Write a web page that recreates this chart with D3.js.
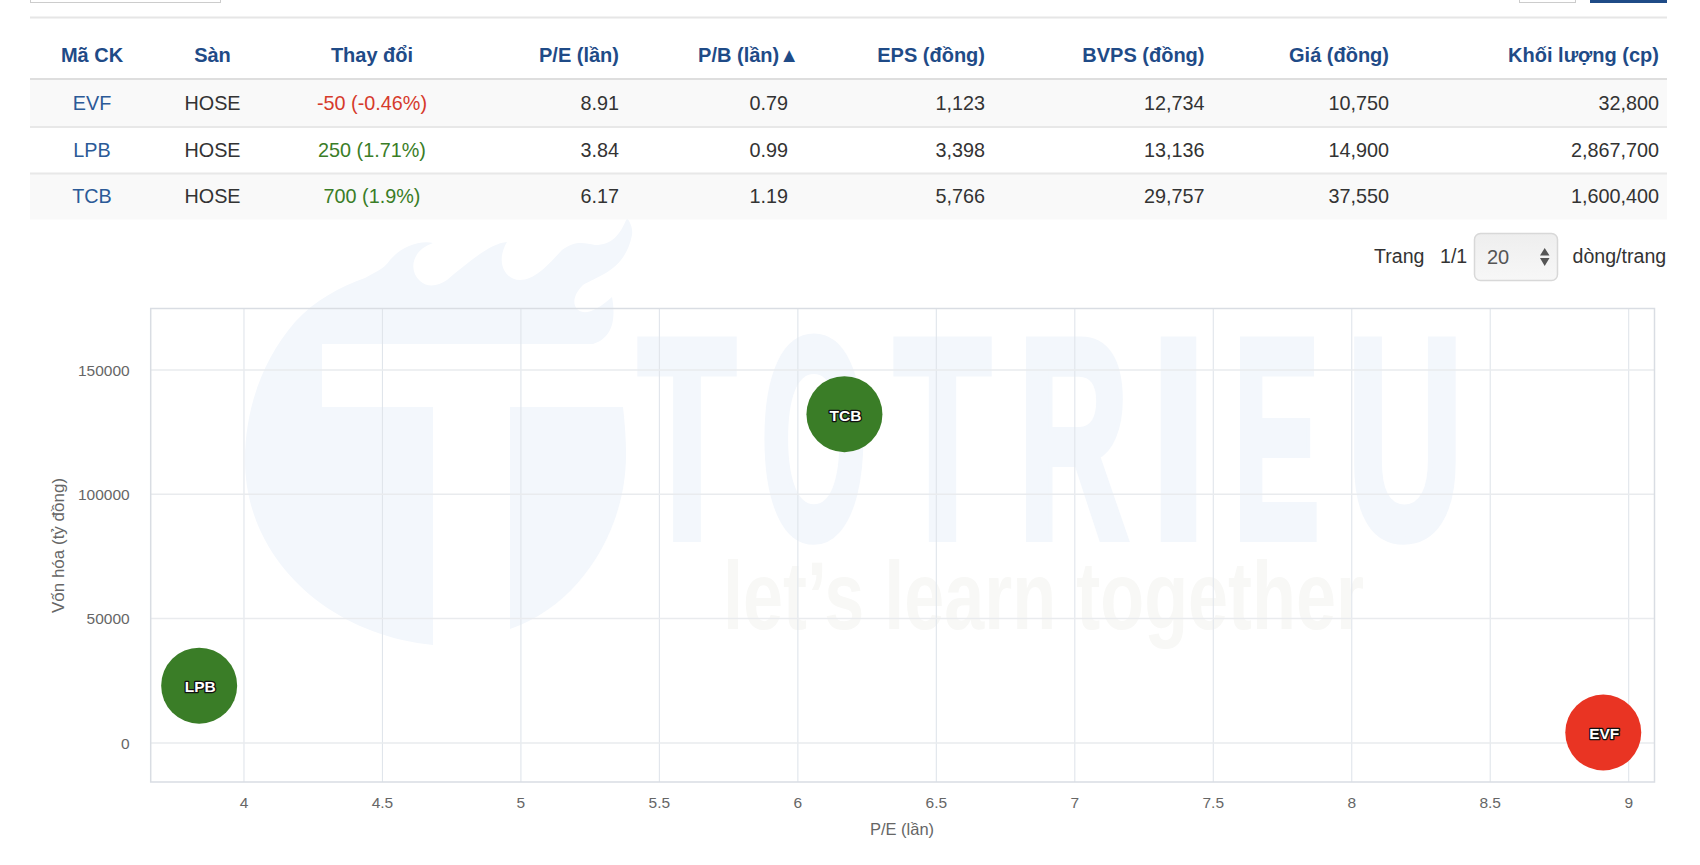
<!DOCTYPE html>
<html><head><meta charset="utf-8">
<script src="https://cdn.jsdelivr.net/npm/d3@7"></script>
<style>
html,body{margin:0;padding:0;background:#fff;overflow:hidden}
svg{display:block}
text{font-family:"Liberation Sans",Arial,sans-serif}
</style></head><body>
<svg id="c" width="1700" height="865"></svg>
<script>
const headers=["Mã CK","Sàn","Thay đổi","P/E (lần)","P/B (lần)▲","EPS (đồng)","BVPS (đồng)","Giá (đồng)","Khối lượng (cp)"];
const tickers=["EVF","LPB","TCB"];
const exchanges=["HOSE","HOSE","HOSE"];
const changes=["-50 (-0.46%)","250 (1.71%)","700 (1.9%)"];
const changeDir=[-1,1,1];
const peValues=[8.91,3.84,6.17];
const pbValues=[0.79,0.99,1.19];
const epsValues=[1123,3398,5766];
const bvpsValues=[12734,13136,29757];
const priceValues=[10750,14900,37550];
const volumeValues=[32800,2867700,1600400];
const marketCap=[4000,22850,132000];
const xTicks=[4,4.5,5,5.5,6,6.5,7,7.5,8,8.5,9];
const yTicks=[0,50000,100000,150000];
const xTitle="P/E (lần)", yTitle="Vốn hóa (tỷ đồng)";

const svg=d3.select("#c");
const NAVY="#1f4b87",LINK="#2b5a97",INK="#333",GREEN="#3a7d27",RED="#d63a2b",WM="#f3f7fc";
const fmt=d3.format(",");

// ---- top controls remnants
svg.append("rect").attr("x",30.5).attr("y",-6).attr("width",190).attr("height",8.5).attr("fill","#fff").attr("stroke","#ccc");
svg.append("rect").attr("x",1519.5).attr("y",-6).attr("width",56).attr("height",8.5).attr("fill","#fff").attr("stroke","#ccc");
svg.append("rect").attr("x",1590).attr("y",0).attr("width",77).attr("height",3).attr("fill","#1f4b87");
svg.append("rect").attr("x",30).attr("y",16.5).attr("width",1637).attr("height",2).attr("fill","#e6e6e6");

// ---- watermark
const wm=svg.append("g");
wm.append("path").attr("fill",WM).attr("d","M433,407 L322,407 L322,344 L593,344 C605,340 618,330 612,297 C600,308 590,313 583,312 C573,310 570,298 583,285 C600,275 625,270 632,235 C633,228 630,222 627,218 C620,235 612,245 595,245 C585,243 575,240 562,250 C548,265 535,280 520,280 C505,280 495,262 507,242 C490,243 465,265 447,280 C438,286 428,288 420,281 C408,270 412,250 433,243 C418,240 400,248 390,260 C383,270 375,272 365,278 C340,287 315,300 295,322 C262,360 245,410 245,460 C245,560 330,635 433,645 Z");
wm.append("path").attr("fill",WM).attr("d","M510,407 L623,407 C625,425 626,440 626,455 C626,530 580,605 510,629 Z");
[["T",637,737,1.07],["O",762,866,1.11],["T",893,992,1.07],["R",1021,1126,1.146],["I",1160,1197,1.98],["E",1236,1317,1.19],["U",1354,1456,1.24]].forEach(([ch,a,b,k])=>{
  wm.append("text").text(ch).attr("x",(a+b)/2).attr("y",538).attr("text-anchor","middle")
    .attr("font-size",287).attr("font-weight","bold").attr("fill",WM).attr("stroke",WM).attr("stroke-width",8)
    .attr("stroke-linejoin","miter").attr("textLength",(b-a-8)*k).attr("lengthAdjust","spacingAndGlyphs");
});
wm.append("text").text("let’s learn together").attr("x",723).attr("y",629).attr("font-size",96).attr("font-weight","bold")
  .attr("fill","#f8f8f6").attr("textLength",641).attr("lengthAdjust","spacingAndGlyphs");

// ---- table
const columns=[
 {c:92,a:"middle"},{c:212.5,a:"middle"},{c:372,a:"middle"},{c:619,a:"end"},{c:799,a:"end",v:788},
 {c:985,a:"end"},{c:1204.5,a:"end"},{c:1389,a:"end"},{c:1659,a:"end"}];
svg.append("g").selectAll("text").data(headers).join("text")
  .text(d=>d).attr("x",(d,i)=>columns[i].c).attr("y",62).attr("text-anchor",(d,i)=>columns[i].a)
  .attr("font-size",20).attr("font-weight","bold").attr("fill",NAVY);
svg.append("rect").attr("x",30).attr("y",78).attr("width",1637).attr("height",2.5).attr("fill","#dedede");
const rowTop=[80,127,173.5], rowH=[46,46.5,46];
tickers.forEach((t,r)=>{
  if(r%2===0) svg.append("rect").attr("x",30).attr("y",rowTop[r]).attr("width",1637).attr("height",rowH[r]).attr("fill","#f9f9f9");
  if(r>0) svg.append("rect").attr("x",30).attr("y",rowTop[r]-1).attr("width",1637).attr("height",2).attr("fill","#e8e8e8");
  const cells=[t,exchanges[r],changes[r],peValues[r].toFixed(2),pbValues[r].toFixed(2),fmt(epsValues[r]),fmt(bvpsValues[r]),fmt(priceValues[r]),fmt(volumeValues[r])];
  const base=[110,156.5,203][r];
  svg.append("g").selectAll("text").data(cells).join("text")
    .text(d=>d).attr("x",(d,i)=>columns[i].v||columns[i].c).attr("y",base).attr("text-anchor",(d,i)=>columns[i].a)
    .attr("font-size",19.8)
    .attr("fill",(d,i)=>i===0?LINK:i===2?(changeDir[r]<0?RED:GREEN):INK);
});

// ---- pagination
const defs=svg.append("defs");
const gr=defs.append("linearGradient").attr("id","sel").attr("x1",0).attr("y1",0).attr("x2",0).attr("y2",1);
gr.append("stop").attr("offset",0).attr("stop-color","#eeeeee");
gr.append("stop").attr("offset",1).attr("stop-color","#f7f7f7");
[["Trang",1374],["1/1",1440],["dòng/trang",1572.5]].forEach(([s,x])=>{
  svg.append("text").text(s).attr("x",x).attr("y",263).attr("font-size",19.6).attr("fill",INK);
});
svg.append("rect").attr("x",1474.5).attr("y",233.5).attr("width",83).attr("height",47).attr("rx",6).attr("fill","url(#sel)").attr("stroke","#d8d8d8").attr("stroke-width",1.5);
svg.append("text").text("20").attr("x",1487).attr("y",263.5).attr("font-size",20).attr("fill","#555");
svg.append("path").attr("d","M1544.7,248 L1549.5,255.5 L1540,255.5 Z M1544.7,266 L1549.5,258 L1540,258 Z").attr("fill","#555");

// ---- chart
const plot={l:150.7,r:1654.5,t:308.5,b:782};
const x=d3.scaleLinear().domain([3.665,9.095]).range([plot.l,plot.r]);
const y=d3.scaleLinear().domain([-15900,174500]).range([plot.b,plot.t]);
const gridX=svg.append("g").attr("transform",`translate(0,${plot.b})`).call(d3.axisBottom(x).tickValues(xTicks).tickSize(-(plot.b-plot.t)).tickFormat(""));
gridX.select(".domain").remove();
gridX.selectAll("line").attr("stroke","#e0e5eb").attr("stroke-width",1.1);
const gridY=svg.append("g").attr("transform",`translate(${plot.l},0)`).call(d3.axisLeft(y).tickValues(yTicks).tickSize(-(plot.r-plot.l)).tickFormat(""));
gridY.select(".domain").remove();
gridY.selectAll("line").attr("stroke","#e9ebee").attr("stroke-width",1.5);
svg.append("rect").attr("x",plot.l).attr("y",plot.t).attr("width",plot.r-plot.l).attr("height",plot.b-plot.t).attr("fill","none").attr("stroke","#d9dde3").attr("stroke-width",1.5);

const axX=svg.append("g").attr("transform",`translate(0,${plot.b})`).call(d3.axisBottom(x).tickValues(xTicks).tickSize(0).tickPadding(15).tickFormat(d3.format("")));
axX.select(".domain").remove();
axX.selectAll("text").attr("font-size",15.5).attr("fill","#666").attr("font-family","Liberation Sans");
const axY=svg.append("g").attr("transform",`translate(${plot.l},0)`).call(d3.axisLeft(y).tickValues(yTicks).tickSize(0).tickPadding(21).tickFormat(d3.format("d")));
axY.select(".domain").remove();
axY.selectAll("text").attr("font-size",15.5).attr("fill","#666").attr("font-family","Liberation Sans").attr("dy","0.36em");

svg.append("text").text(xTitle).attr("x",902).attr("y",835).attr("text-anchor","middle").attr("font-size",16.5).attr("fill","#666");
svg.append("text").text(yTitle).attr("transform","translate(64,545.5) rotate(-90)").attr("text-anchor","middle").attr("font-size",17).attr("fill","#666");

const bub=svg.append("g").selectAll("g").data(tickers).join("g")
  .attr("transform",(d,i)=>`translate(${x(peValues[i])},${y(marketCap[i])})`);
bub.append("circle").attr("r",38).attr("fill",(d,i)=>changeDir[i]<0?"#e93423":"#3a7d27");
bub.append("text").text(d=>d).attr("text-anchor","middle").attr("y",6.5).attr("x",1).attr("font-size",15.5).attr("font-weight","bold")
  .attr("fill","#fff").attr("stroke","#111").attr("stroke-width",2.6).attr("paint-order","stroke").attr("stroke-linejoin","round");
</script>
</body></html>
